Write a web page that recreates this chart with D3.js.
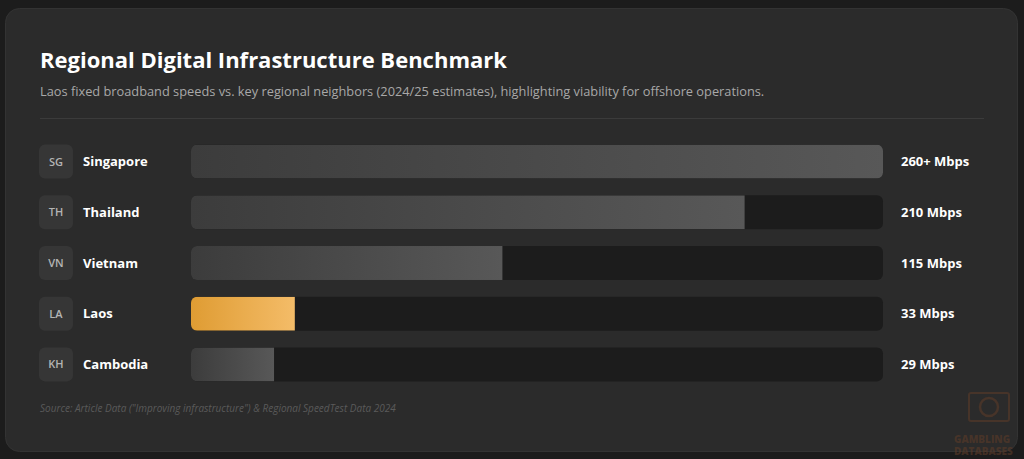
<!DOCTYPE html>
<html>
<head>
<meta charset="utf-8">
<script src="https://cdn.jsdelivr.net/npm/d3@7"></script>
<style>
  body { margin: 0; background: #1c1c1c; font-family: "Open Sans", "Noto Sans", sans-serif; }
</style>
</head>
<body>
<div id="chart"></div>
<script>
// data
var codes = ["SG", "TH", "VN", "LA", "KH"];
var countries = ["Singapore", "Thailand", "Vietnam", "Laos", "Cambodia"];
var speedLabels = ["260+ Mbps", "210 Mbps", "115 Mbps", "33 Mbps", "29 Mbps"];
var fillShare = [100, 80, 45, 15, 12]; // bar fill, % of track
var highlight = "Laos";

var svgWidth = 1024;
var svgHeight = 459;

var svg = d3.select("#chart")
  .append("svg")
  .attr("width", svgWidth)
  .attr("height", svgHeight);

var defs = svg.append("defs");
var grey = defs.append("linearGradient").attr("id", "greyFill");
grey.append("stop").attr("offset", "0%").attr("stop-color", "#3c3c3c");
grey.append("stop").attr("offset", "100%").attr("stop-color", "#585858");
var gold = defs.append("linearGradient").attr("id", "goldFill");
gold.append("stop").attr("offset", "0%").attr("stop-color", "#df9c33");
gold.append("stop").attr("offset", "100%").attr("stop-color", "#f4bc68");

// card
svg.append("rect")
  .attr("x", 5.5).attr("y", 8.5)
  .attr("width", 1012).attr("height", 443)
  .attr("rx", 14)
  .attr("fill", "#2b2b2b")
  .attr("stroke", "#333");

svg.append("text")
  .attr("x", 40).attr("y", 68)
  .attr("fill", "#ffffff")
  .style("font-size", "22px")
  .style("font-weight", "700")
  .text("Regional Digital Infrastructure Benchmark");

svg.append("text")
  .attr("x", 40).attr("y", 96)
  .attr("fill", "#a8a8a8")
  .style("font-size", "12.8px")
  .text("Laos fixed broadband speeds vs. key regional neighbors (2024/25 estimates), highlighting viability for offshore operations.");

svg.append("line")
  .attr("x1", 40).attr("x2", 984)
  .attr("y1", 118.5).attr("y2", 118.5)
  .attr("stroke", "#3b3b3b");

// scales
var y = d3.scaleBand()
  .domain(countries)
  .range([136, 390])
  .paddingInner(0.33)
  .paddingOuter(0.17);

var x = d3.scaleLinear()
  .domain([0, 100])
  .range([191, 883]);

var rows = svg.selectAll(".row")
  .data(countries)
  .enter()
  .append("g")
  .attr("class", "row")
  .attr("transform", d => `translate(0, ${y(d)})`);

var bh = y.bandwidth();

rows.append("rect")
  .attr("x", 39).attr("width", bh).attr("height", bh)
  .attr("rx", 6)
  .attr("fill", "#363636");

rows.append("text")
  .attr("x", 39 + bh / 2).attr("y", bh / 2)
  .attr("dy", "0.36em")
  .attr("text-anchor", "middle")
  .attr("fill", "#b4b4b4")
  .style("font-size", "11px")
  .style("font-weight", "600")
  .text((d, i) => codes[i]);

rows.append("text")
  .attr("x", 83).attr("y", bh / 2)
  .attr("dy", "0.36em")
  .attr("fill", "#ffffff")
  .style("font-size", "13px")
  .style("font-weight", "700")
  .text(d => d);

// track
rows.append("rect")
  .attr("x", x(0))
  .attr("width", x(100) - x(0))
  .attr("height", bh)
  .attr("rx", 6)
  .attr("fill", "#1c1c1c");

// fill, clipped to rounded track so the right end stays square
rows.append("clipPath")
  .attr("id", (d, i) => "clip" + i)
  .append("rect")
  .attr("x", x(0))
  .attr("width", x(100) - x(0))
  .attr("height", bh)
  .attr("rx", 6);

rows.append("rect")
  .attr("clip-path", (d, i) => `url(#clip${i})`)
  .attr("x", x(0))
  .attr("width", (d, i) => x(fillShare[i]) - x(0))
  .attr("height", bh)
  .attr("fill", d => d === highlight ? "url(#goldFill)" : "url(#greyFill)");

rows.append("text")
  .attr("x", 901).attr("y", bh / 2)
  .attr("dy", "0.36em")
  .attr("fill", "#ffffff")
  .style("font-size", "13px")
  .style("font-weight", "700")
  .text((d, i) => speedLabels[i]);

svg.append("text")
  .attr("x", 40).attr("y", 412)
  .attr("fill", "#5a5a5a")
  .style("font-size", "10px")
  .style("font-style", "italic")
  .text("Source: Article Data (\"Improving infrastructure\") & Regional SpeedTest Data 2024");

// faint watermark bottom right
var wm = svg.append("g").attr("fill", "#5a3a28").attr("opacity", 0.6);
wm.append("rect")
  .attr("x", 969).attr("y", 393).attr("width", 40).attr("height", 28)
  .attr("rx", 2).attr("fill", "none").attr("stroke", "#5a3a28").attr("stroke-width", 2);
wm.append("circle")
  .attr("cx", 989).attr("cy", 407).attr("r", 9)
  .attr("fill", "none").attr("stroke", "#5a3a28").attr("stroke-width", 2.5);
wm.append("text")
  .attr("x", 954).attr("y", 443)
  .style("font-size", "10px").style("font-weight", "800")
  .text("GAMBLING");
wm.append("text")
  .attr("x", 954).attr("y", 455)
  .style("font-size", "10px").style("font-weight", "800")
  .text("DATABASES");
</script>
</body>
</html>
